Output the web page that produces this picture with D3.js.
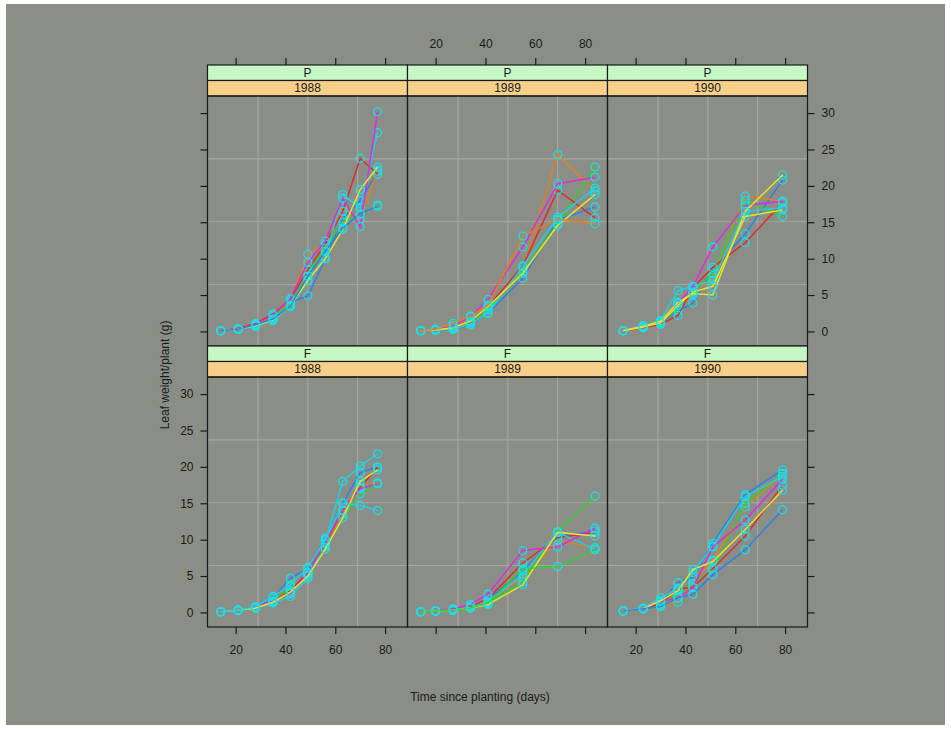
<!DOCTYPE html>
<html>
<head>
<meta charset="utf-8">
<script src="https://cdn.jsdelivr.net/npm/d3@7"></script>
<style>
  body { margin: 0; background: #fff; }
  text { font-family: "Liberation Sans", Arial, sans-serif; fill: #1a1a1a; }
</style>
</head>
<body>
<div class="chart"></div>
<script>
// sampling days per year
const times1988 = [14, 21, 28, 35, 42, 49, 56, 63, 70, 77];
const times1989 = [14, 20, 27, 34, 41, 55, 69, 84];
const times1990 = [15, 23, 30, 37, 43, 51, 64, 79];

const varieties = ["P", "F"];
const years = ["1988", "1989", "1990"];
const xTicks = [20, 40, 60, 80];
const yTicks = [0, 5, 10, 15, 20, 25, 30];
const gridX = [29, 49, 69];
const gridY = [6.45, 15.07, 23.7];

// leaf weight per plot (g), one row per plot
const weightP1988 = [
  [0.1, 0.3, 0.8, 1.8, 4.0, 4.9, 10.0, 15.5, 18.0, 22.0],
  [0.1, 0.3, 0.9, 2.0, 4.2, 10.6, 12.0, 17.0, 15.4, 22.2],
  [0.1, 0.3, 0.8, 1.9, 3.9, 8.0, 11.5, 15.0, 16.0, 17.4],
  [0.1, 0.4, 1.1, 2.4, 4.4, 8.5, 12.0, 16.5, 23.8, 21.6],
  [0.1, 0.3, 0.7, 1.5, 3.4, 7.0, 10.2, 18.8, 17.0, 27.3],
  [0.1, 0.3, 1.0, 2.2, 4.5, 9.5, 12.4, 18.3, 14.4, 30.2],
  [0.1, 0.3, 0.8, 1.6, 3.6, 7.0, 10.0, 14.0, 19.5, 22.6],
  [0.1, 0.3, 0.9, 1.7, 3.5, 7.6, 11.0, 14.2, 16.2, 17.2]
];
const weightP1989 = [
  [0.1, 0.2, 0.3, 0.9, 2.5, 7.3, 15.3, 17.1],
  [0.1, 0.2, 0.6, 1.5, 3.2, 8.5, 24.3, 19.3],
  [0.1, 0.2, 0.4, 1.2, 3.0, 8.2, 14.8, 22.6],
  [0.1, 0.2, 0.5, 1.3, 3.4, 9.0, 19.4, 15.6],
  [0.1, 0.2, 0.3, 1.0, 2.5, 8.9, 15.7, 19.7],
  [0.1, 0.2, 0.8, 2.0, 4.4, 11.6, 20.3, 21.2],
  [0.1, 0.2, 0.5, 1.4, 3.4, 8.0, 14.6, 18.8],
  [0.1, 0.3, 1.1, 2.1, 3.6, 13.1, 15.4, 14.8]
];
const weightP1990 = [
  [0.1, 0.6, 1.2, 2.8, 3.9, 8.5, 13.4, 20.8],
  [0.1, 0.5, 1.0, 3.5, 5.0, 7.5, 18.6, 17.9],
  [0.1, 0.6, 1.4, 3.0, 5.5, 8.0, 18.0, 15.8],
  [0.1, 0.5, 1.0, 2.2, 6.0, 8.8, 12.2, 17.7],
  [0.1, 0.8, 1.5, 5.6, 6.2, 7.0, 16.5, 17.0],
  [0.1, 0.6, 1.3, 3.9, 6.2, 11.6, 17.3, 17.9],
  [0.1, 0.7, 1.4, 4.0, 5.2, 5.0, 16.5, 21.5],
  [0.1, 0.6, 1.2, 3.6, 5.4, 6.2, 15.8, 16.7]
];
const weightF1988 = [
  [0.1, 0.3, 0.7, 2.0, 4.7, 6.0, 10.2, 15.0, 19.2, 20.0],
  [0.1, 0.3, 0.7, 1.4, 3.0, 5.3, 9.2, 13.5, 17.6, 17.8],
  [0.1, 0.3, 0.6, 1.5, 3.5, 5.0, 9.0, 13.0, 16.3, 17.7],
  [0.1, 0.3, 0.7, 1.5, 3.0, 5.5, 9.5, 14.0, 17.2, 19.9],
  [0.1, 0.3, 0.6, 1.3, 2.2, 4.7, 9.8, 18.0, 20.1, 21.8],
  [0.1, 0.3, 0.7, 1.6, 2.6, 5.4, 9.5, 14.0, 17.0, 17.7],
  [0.1, 0.3, 0.6, 1.4, 2.8, 5.0, 8.7, 13.0, 18.0, 19.6],
  [0.1, 0.3, 0.8, 2.2, 3.8, 6.2, 10.0, 15.0, 14.7, 14.0]
];
const weightF1989 = [
  [0.1, 0.2, 0.4, 0.8, 1.8, 5.7, 10.5, 11.2],
  [0.1, 0.2, 0.4, 0.9, 1.6, 4.8, 9.9, 8.9],
  [0.1, 0.2, 0.3, 0.7, 1.2, 4.2, 11.1, 16.0],
  [0.1, 0.2, 0.4, 0.8, 1.9, 6.8, 10.3, 11.0],
  [0.1, 0.2, 0.4, 0.7, 1.4, 5.2, 11.0, 8.7],
  [0.1, 0.2, 0.5, 1.1, 2.5, 8.5, 9.0, 11.6],
  [0.1, 0.2, 0.3, 0.6, 1.1, 3.8, 11.0, 10.5],
  [0.1, 0.2, 0.3, 0.6, 1.3, 6.0, 6.3, 8.6]
];
const weightF1990 = [
  [0.2, 0.5, 1.3, 4.1, 4.8, 9.5, 16.2, 19.6],
  [0.2, 0.5, 1.0, 1.4, 4.0, 7.2, 14.5, 19.0],
  [0.2, 0.5, 1.1, 2.5, 4.0, 5.8, 15.0, 19.1],
  [0.2, 0.5, 1.2, 3.2, 3.5, 6.0, 10.5, 17.5],
  [0.2, 0.6, 2.0, 3.3, 5.5, 9.1, 15.9, 18.7],
  [0.2, 0.5, 1.5, 2.0, 3.4, 9.0, 12.7, 18.3],
  [0.2, 0.5, 1.6, 3.0, 5.9, 7.0, 11.4, 16.8],
  [0.2, 0.5, 0.8, 2.0, 2.5, 5.2, 8.6, 14.1]
];

const palette = ["#2e80e4", "#e0801f", "#2fd02f", "#e02b2b", "#21d0de", "#dc2cdc", "#e4e42a"];
// colour of the 8th plot in each panel (P88, P89, P90, F88, F89, F90)
const eighthColour = [0, 1, 6, 4, 2, 0];

const panels = [
  { v: "P", yr: "1988", t: times1988, w: weightP1988 },
  { v: "P", yr: "1989", t: times1989, w: weightP1989 },
  { v: "P", yr: "1990", t: times1990, w: weightP1990 },
  { v: "F", yr: "1988", t: times1988, w: weightF1988 },
  { v: "F", yr: "1989", t: times1989, w: weightF1989 },
  { v: "F", yr: "1990", t: times1990, w: weightF1990 }
];

const width = 951, height = 729;
const left = 207.5, pw = 200, ph = 250, stripH = 15.5;
const rowTop = [65, 346];

const svg = d3.select(".chart").append("svg")
    .attr("width", width)
    .attr("height", height);

svg.append("rect")
    .attr("x", 6).attr("y", 4)
    .attr("width", 939).attr("height", 721)
    .attr("fill", "#8a8e87");

const x = d3.scaleLinear().domain([8.7, 89]).range([0, pw]);
const y = d3.scaleLinear().domain([-2.0, 32.35]).range([ph, 0]);

const line = d3.line()
    .x((d) => x(d[0]))
    .y((d) => y(d[1]));

panels.forEach((p, i) => {
  const col = i % 3, row = Math.floor(i / 3);
  const px = left + col * pw;
  const sy = rowTop[row];
  const py = sy + 2 * stripH;

  // strips
  const strips = [[p.v, "#c8f7c6"], [p.yr, "#f6cf8a"]];
  strips.forEach((s, k) => {
    svg.append("rect")
        .attr("x", px).attr("y", sy + k * stripH)
        .attr("width", pw).attr("height", stripH)
        .attr("fill", s[1])
        .attr("stroke", "#1a1a1a").attr("stroke-width", 1.2);
    svg.append("text")
        .attr("x", px + pw / 2).attr("y", sy + k * stripH + stripH / 2 + 4)
        .attr("text-anchor", "middle")
        .attr("font-size", 12)
        .text(s[0]);
  });

  const g = svg.append("g")
      .attr("transform", "translate(" + px + "," + py + ")");

  g.selectAll(".gx").data(gridX).enter().append("line")
      .attr("x1", (d) => x(d)).attr("x2", (d) => x(d))
      .attr("y1", 0).attr("y2", ph)
      .attr("stroke", "#a3a79f").attr("stroke-width", 1.2);
  g.selectAll(".gy").data(gridY).enter().append("line")
      .attr("x1", 0).attr("x2", pw)
      .attr("y1", (d) => y(d)).attr("y2", (d) => y(d))
      .attr("stroke", "#a3a79f").attr("stroke-width", 1.2);

  p.w.forEach((vals, j) => {
    const pts = vals.map((v, k) => [p.t[k], v]);
    const c = j < 7 ? palette[j] : palette[eighthColour[i]];
    g.append("path")
        .datum(pts)
        .attr("d", line)
        .attr("fill", "none")
        .attr("stroke", c)
        .attr("stroke-width", 1.5);
    g.selectAll(".pt" + j).data(pts).enter().append("circle")
        .attr("cx", (d) => x(d[0]))
        .attr("cy", (d) => y(d[1]))
        .attr("r", 4)
        .attr("fill", "none")
        .attr("stroke", "#1fdde6")
        .attr("stroke-width", 1.3);
  });

  g.append("rect")
      .attr("width", pw).attr("height", ph)
      .attr("fill", "none")
      .attr("stroke", "#1a1a1a").attr("stroke-width", 1.2);

  // axes, lattice alternating style
  if (row === 0) {
    const ax = svg.append("g")
        .attr("transform", "translate(" + px + "," + sy + ")")
        .call(d3.axisTop(x).tickValues(xTicks).tickSize(7).tickPadding(10).tickSizeOuter(0).tickFormat(col === 1 ? null : ""));
    styleAxis(ax);
  } else {
    const ax = svg.append("g")
        .attr("transform", "translate(" + px + "," + (py + ph) + ")")
        .call(d3.axisBottom(x).tickValues(xTicks).tickSize(7).tickPadding(11).tickSizeOuter(0).tickFormat(col !== 1 ? null : ""));
    styleAxis(ax);
  }
  if (col === 0) {
    const ay = svg.append("g")
        .attr("transform", "translate(" + px + "," + py + ")")
        .call(d3.axisLeft(y).tickValues(yTicks).tickSize(7).tickPadding(7).tickSizeOuter(0).tickFormat(row === 1 ? null : ""));
    styleAxis(ay);
  }
  if (col === 2) {
    const ay = svg.append("g")
        .attr("transform", "translate(" + (px + pw) + "," + py + ")")
        .call(d3.axisRight(y).tickValues(yTicks).tickSize(7).tickPadding(7).tickSizeOuter(0).tickFormat(row === 0 ? null : ""));
    styleAxis(ay);
  }
});

function styleAxis(a) {
  a.select(".domain").remove();
  a.selectAll(".tick line").attr("stroke", "#1a1a1a").attr("stroke-width", 1.2);
  a.selectAll(".tick text")
      .attr("font-family", "Liberation Sans, Arial, sans-serif")
      .attr("font-size", 12)
      .attr("fill", "#1a1a1a");
}

svg.append("text")
    .attr("x", 480).attr("y", 701)
    .attr("text-anchor", "middle")
    .attr("font-size", 12)
    .text("Time since planting (days)");

svg.append("text")
    .attr("transform", "translate(169,375) rotate(-90)")
    .attr("text-anchor", "middle")
    .attr("font-size", 12)
    .text("Leaf weight/plant (g)");
</script>
</body>
</html>
